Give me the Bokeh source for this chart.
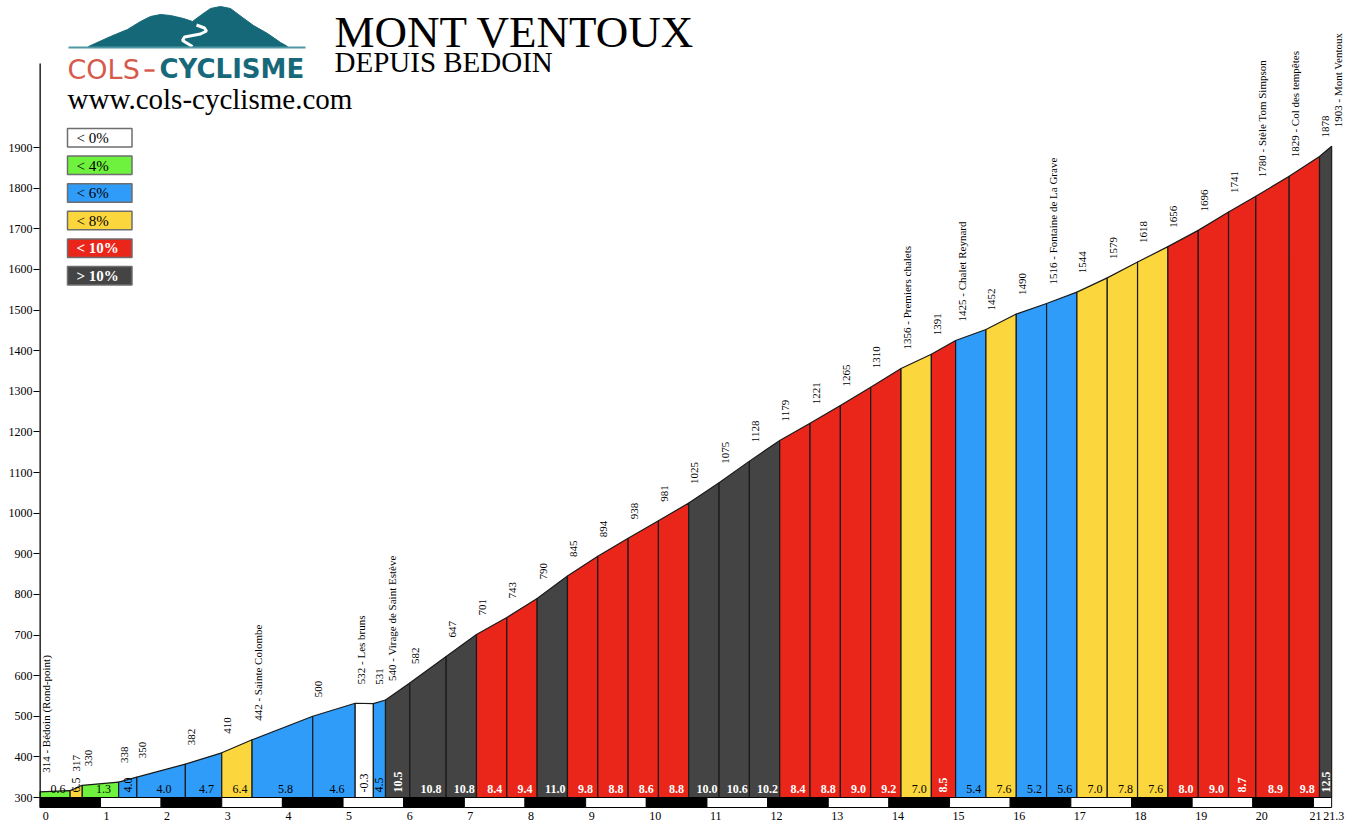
import math
from bokeh.plotting import figure
from bokeh.models import Range1d, FixedTicker, ColumnDataSource
from bokeh.core.properties import value
from bokeh.embed import file_html
from bokeh.resources import INLINE

# ---------------- data ----------------
km = [0, 0.5, 0.7, 1.3, 1.6, 2.4, 3.0, 3.5, 4.5, 5.2, 5.5, 5.7, 6.1, 6.7, 7.2, 7.7,
      8.2, 8.7, 9.2, 9.7, 10.2, 10.7, 11.2, 11.7, 12.2, 12.7, 13.2, 13.7, 14.2,
      14.7, 15.1, 15.6, 16.1, 16.6, 17.1, 17.6, 18.1, 18.6, 19.1, 19.6, 20.05,
      20.6, 21.1, 21.3]
altitude = [314, 317, 330, 338, 350, 382, 410, 442, 500, 532, 531, 540, 582, 647,
            701, 743, 790, 845, 894, 938, 981, 1025, 1075, 1128, 1179, 1221, 1265,
            1310, 1356, 1391, 1425, 1452, 1490, 1516, 1544, 1579, 1618, 1656, 1696,
            1741, 1780, 1829, 1878, 1903]
grade = [0.6, 6.5, 1.3, 4.0, 4.0, 4.7, 6.4, 5.8, 4.6, -0.3, 4.5, 10.5, 10.8, 10.8,
         8.4, 9.4, 11.0, 9.8, 8.8, 8.6, 8.8, 10.0, 10.6, 10.2, 8.4, 8.8, 9.0, 9.2,
         7.0, 8.5, 5.4, 7.6, 5.2, 5.6, 7.0, 7.8, 7.6, 8.0, 9.0, 8.7, 8.9, 9.8, 12.5]
place_names = ["Bédoin (Rond-point)", "", "", "", "", "", "", "Sainte Colombe", "",
               "Les bruns", "", "Virage de Saint Estève", "", "", "", "", "", "", "",
               "", "", "", "", "", "", "", "", "", "Premiers chalets", "",
               "Chalet Reynard", "", "", "Fontaine de La Grave", "", "", "", "", "",
               "", "Stèle Tom Simpson", "Col des tempêtes", "", "Mont Ventoux"]
km_ticks = list(range(22)) + [21.3]
km_tick_labels = [str(i) for i in range(22)] + ["21.3"]
alt_ticks = list(range(300, 2000, 100))
legend_labels = ["< 0%", "< 4%", "< 6%", "< 8%", "< 10%", "> 10%"]
grade_limits = [0, 4, 6, 8, 10]
palette = ["#FFFFFF", "#6FF23D", "#2F9CF9", "#FCD63D", "#EA261B", "#444444"]
text_on = ["black", "black", "black", "black", "white", "white"]

title_main = "MONT VENTOUX"
title_sub = "DEPUIS BEDOIN"
site = "www.cols-cyclisme.com"

# ---------------- geometry (page pixels -> data) ----------------
W, H = 1351, 823
LEFT = 39
PX_PER_KM = 60.65
PX_PER_M = 0.40625
KM0_PX = 39.3
BASE_PY = 797
BASE_ALT = 300

x_start = -(KM0_PX - LEFT) / PX_PER_KM
x_end = x_start + (W - LEFT) / PX_PER_KM
y_end = BASE_ALT + BASE_PY / PX_PER_M
y_start = y_end - H / PX_PER_M


def X(px):
    return x_start + (px - LEFT) / PX_PER_KM


def Y(py):
    return y_end - py / PX_PER_M


SERIF = value("Liberation Serif")

p = figure(width=W, height=H, x_range=Range1d(x_start, x_end),
           y_range=Range1d(y_start, y_end), output_backend="svg",
           toolbar_location=None, x_axis_location=None)
p.min_border = 0
p.min_border_left = LEFT
p.outline_line_color = None
p.xgrid.visible = False
p.ygrid.visible = False
p.background_fill_color = "white"
p.border_fill_color = "white"

# y axis
ax = p.yaxis[0]
ax.ticker = FixedTicker(ticks=alt_ticks)
ax.axis_line_color = None
ax.major_tick_out = 6
ax.major_tick_in = 0
ax.minor_tick_out = 0
ax.minor_tick_in = 0
ax.major_tick_line_color = "black"
ax.major_label_standoff = 1
ax.major_label_text_font = "Liberation Serif"
ax.major_label_text_font_size = "12px"
ax.major_label_text_color = "black"


def grade_class(g):
    for i, lim in enumerate(grade_limits):
        if g < lim:
            return i
    return len(grade_limits)


n = len(grade)
classes = [grade_class(g) for g in grade]
seg_src = ColumnDataSource(dict(
    xs=[[km[i], km[i], km[i + 1], km[i + 1]] for i in range(n)],
    ys=[[BASE_ALT, altitude[i], altitude[i + 1], BASE_ALT] for i in range(n)],
    color=[palette[c] for c in classes],
))
p.patches("xs", "ys", source=seg_src, fill_color="color", line_color="#1a1a1a",
          line_width=1.2)

# km bar
bar_bottom = BASE_ALT - 10 / PX_PER_M
p.quad(left=km_ticks[:-1], right=km_ticks[1:], top=BASE_ALT, bottom=bar_bottom,
       fill_color=["black" if i % 2 == 0 else "white" for i in range(len(km_ticks) - 1)],
       line_color="black", line_width=1)

# axis line
p.segment(x0=[0], y0=[bar_bottom], x1=[0], y1=[Y(63)], line_color="black", line_width=2)

# km labels
lab_y = BASE_ALT - 18 / PX_PER_M
p.text(x=km_ticks[:-2], y=[lab_y] * (len(km_ticks) - 2), text=km_tick_labels[:-2],
       text_align="left", text_baseline="middle", x_offset=3,
       text_font=SERIF, text_font_size="12px", text_color="black")
p.text(x=km_ticks[-2:], y=[lab_y] * 2, text=km_tick_labels[-2:],
       text_align="center", text_baseline="middle", x_offset=2,
       text_font=SERIF, text_font_size="12px", text_color="black")

# gradient labels
for vertical in (False, True):
    for white in (False, True):
        idx = [i for i in range(n)
               if ((km[i + 1] - km[i]) < 0.48) == vertical
               and (text_on[classes[i]] == "white") == white]
        if not idx:
            continue
        src = ColumnDataSource(dict(
            x=[(km[i] + km[i + 1]) / 2 for i in idx],
            y=[BASE_ALT] * len(idx),
            t=["%.1f" % grade[i] for i in idx],
        ))
        kw = dict(text_font=SERIF, text_font_size="12px",
                  text_color="white" if white else "black",
                  text_font_style="bold" if white else "normal")
        if vertical:
            p.text("x", "y", text="t", source=src, angle=math.pi / 2,
                   text_align="left", text_baseline="middle", y_offset=-5, **kw)
        else:
            p.text("x", "y", text="t", source=src, text_align="center",
                   text_baseline="middle", x_offset=3, y_offset=-9, **kw)

# altitude labels
alt_labels = [("%d - %s" % (a, nm)) if nm else str(a) for a, nm in zip(altitude, place_names)]
p.text(x=km, y=altitude, text=alt_labels, angle=math.pi / 2, text_align="left",
       text_baseline="middle", x_offset=6, y_offset=-19, text_font=SERIF,
       text_font_size="11px", text_color="black")

# legend
for i, (lab, col) in enumerate(zip(legend_labels, palette)):
    top = 128 + i * 27.6
    p.quad(left=[X(67)], right=[X(131.5)], top=[Y(top)], bottom=[Y(top + 18.5)],
           fill_color=col, line_color="#6e6e6e", line_width=1.5)
    white = text_on[i] == "white"
    p.text(x=[X(76)], y=[Y(top + 9.5)], text=[lab], text_align="left",
           text_baseline="middle", text_font=SERIF, text_font_size="15px",
           text_color=text_on[i], text_font_style="bold" if white else "normal")

# titles
p.text(x=[X(334)], y=[Y(31)], text=[title_main], text_font=SERIF,
       text_font_size="45px", text_baseline="middle", text_color="black")
p.text(x=[X(334)], y=[Y(61)], text=[title_sub], text_font=SERIF,
       text_font_size="29px", text_baseline="middle", text_color="black")
p.text(x=[X(67)], y=[Y(98)], text=[site], text_font=SERIF,
       text_font_size="29px", text_baseline="middle", text_color="black")

# logo
mountain_px = [(88, 46), (110, 36), (127, 29), (140, 21), (150, 16), (160, 14),
               (170, 15), (183, 18), (192, 21), (200, 15), (210, 8), (220, 6),
               (230, 8), (242, 17), (253, 25), (267, 33), (280, 42), (287, 46)]
p.patch([X(a) for a, b in mountain_px], [Y(b) for a, b in mountain_px],
        fill_color="#156878", line_color="#156878", line_width=1)
road_px = [(192, 46), (182, 40), (184, 36.5), (200, 33.5), (206, 30.5), (204, 27.5), (196, 24.5)]
p.line([X(a) for a, b in road_px], [Y(b) for a, b in road_px], line_color="white",
       line_width=3)
p.segment(x0=[X(68)], y0=[Y(47)], x1=[X(305)], y1=[Y(47)], line_color="#4f97a5",
          line_width=2)
p.text(x=[X(67)], y=[Y(68.5)], text=["COLS"], text_font=value("DejaVu Sans"),
       text_font_size="27px", text_baseline="middle", text_color="#D65A4C")
p.segment(x0=[X(144)], y0=[Y(70)], x1=[X(154)], y1=[Y(70)], line_color="#D65A4C",
          line_width=2.5)
p.text(x=[X(159)], y=[Y(68.5)], text=["CYCLISME"], text_font=value("DejaVu Sans"),
       text_font_size="26px", text_font_style="bold", text_baseline="middle",
       text_color="#17697A")

with open("out.html", "w", encoding="utf-8") as f:
    f.write(file_html(p, INLINE))
